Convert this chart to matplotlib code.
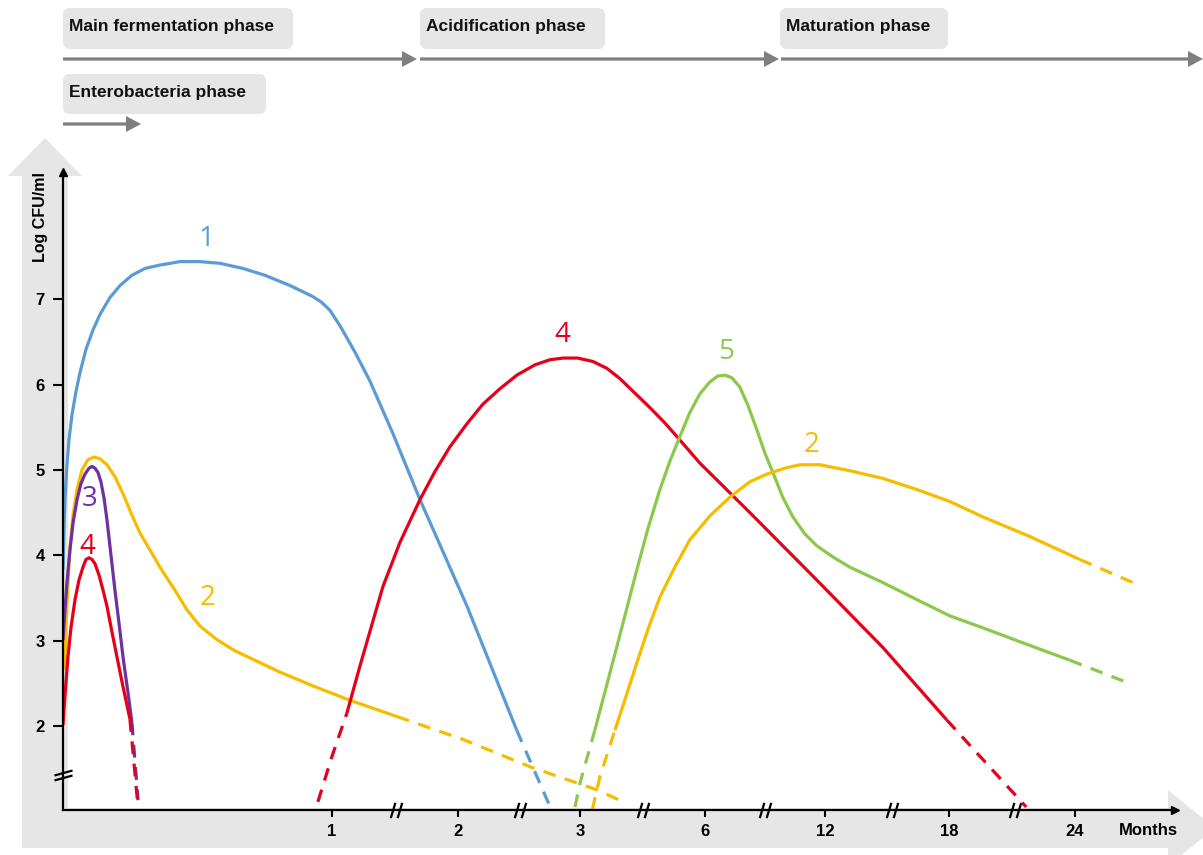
import matplotlib
matplotlib.use("Agg")
import matplotlib.pyplot as plt
from matplotlib.patches import FancyBboxPatch, Polygon
from matplotlib.path import Path

# curve data: x = position along the (broken) time axis, y = log CFU/ml
blue_x = [0, 0.008, 0.016, 0.032, 0.048, 0.073, 0.105, 0.137, 0.185, 0.242, 0.298, 0.379, 0.46,
          0.556, 0.661, 0.782, 0.944, 1.105, 1.266, 1.452, 1.629, 1.831, 2.016, 2.089, 2.153,
          2.234, 2.355, 2.476, 2.66, 2.88, 3.26, 3.66]
blue_y = [3.83, 4.30, 4.65, 5.06, 5.35, 5.65, 5.92, 6.14, 6.41, 6.64, 6.82, 7.02, 7.16,
          7.28, 7.36, 7.40, 7.44, 7.44, 7.42, 7.36, 7.28, 7.16, 7.03, 6.96, 6.87,
          6.69, 6.38, 6.04, 5.43, 4.65, 3.40, 1.95]
blue_dash_x = [3.66, 3.93]
blue_dash_y = [1.95, 1.05]

yellow1_x = [0.016, 0.024, 0.040, 0.056, 0.081, 0.113, 0.153, 0.202, 0.250, 0.298, 0.355, 0.419,
             0.484, 0.556, 0.621, 0.702, 0.782, 0.903, 1.0, 1.105, 1.242, 1.387, 1.548, 1.75,
             2.032, 2.315, 2.694]
yellow1_y = [2.66, 3.18, 3.65, 4.09, 4.47, 4.77, 5.00, 5.12, 5.15, 5.13, 5.06, 4.92,
             4.72, 4.47, 4.26, 4.06, 3.86, 3.59, 3.36, 3.17, 3.01, 2.88, 2.77, 2.63,
             2.46, 2.30, 2.11]
yellow1_dash_x = [2.694, 3.23, 3.77, 4.31, 4.52]
yellow1_dash_y = [2.11, 1.84, 1.52, 1.25, 1.11]

purple_x = [0, 0.016, 0.032, 0.056, 0.081, 0.113, 0.145, 0.177, 0.210, 0.234, 0.258, 0.282,
            0.306, 0.331, 0.355, 0.387, 0.419, 0.452, 0.484, 0.524, 0.556]
purple_y = [3.01, 3.36, 3.68, 4.06, 4.38, 4.65, 4.84, 4.95, 5.02, 5.04, 5.02, 4.97,
            4.86, 4.67, 4.41, 4.00, 3.59, 3.20, 2.81, 2.39, 2.04]
purple_dash_x = [0.556, 0.605]
purple_dash_y = [2.04, 1.13]

red1_x = [0, 0.016, 0.040, 0.065, 0.097, 0.129, 0.161, 0.185, 0.210, 0.234, 0.258, 0.290,
          0.323, 0.355, 0.395, 0.435, 0.484, 0.540]
red1_y = [2.01, 2.36, 2.81, 3.16, 3.48, 3.71, 3.86, 3.95, 3.97, 3.95, 3.90, 3.77,
          3.59, 3.40, 3.10, 2.81, 2.46, 2.08]
red1_dash_x = [0.540, 0.60]
red1_dash_y = [2.08, 1.13]

red2_dash_start_x = [2.056, 2.169, 2.29]
red2_dash_start_y = [1.11, 1.64, 2.15]
red2_x = [2.29, 2.395, 2.58, 2.718, 2.879, 3.0, 3.121, 3.258, 3.387, 3.524, 3.661, 3.806,
          3.927, 4.032, 4.153, 4.274, 4.387, 4.492, 4.613, 4.734, 4.855, 4.952, 5.137, 5.54,
          6.08, 6.613, 7.129]
red2_y = [2.15, 2.70, 3.63, 4.15, 4.65, 4.98, 5.27, 5.54, 5.77, 5.95, 6.11, 6.23,
          6.29, 6.31, 6.31, 6.27, 6.19, 6.07, 5.90, 5.73, 5.55, 5.39, 5.08, 4.50,
          3.71, 2.92, 2.07]
red2_dash_x = [7.129, 7.77]
red2_dash_y = [2.07, 1.05]

green_dash_start_x = [4.13, 4.17, 4.29]
green_dash_start_y = [1.05, 1.33, 1.95]
green_x = [4.29, 4.468, 4.629, 4.718, 4.815, 4.895, 4.976, 5.056, 5.137, 5.218, 5.282, 5.339,
           5.395, 5.46, 5.524, 5.597, 5.661, 5.726, 5.806, 5.887, 5.984, 6.081, 6.21, 6.347,
           6.613, 6.887, 7.153, 7.419, 7.694, 8.121]
green_y = [1.95, 2.93, 3.83, 4.31, 4.77, 5.10, 5.39, 5.67, 5.89, 6.03, 6.10, 6.11,
           6.08, 5.97, 5.76, 5.47, 5.20, 4.97, 4.68, 4.45, 4.25, 4.11, 3.98, 3.86,
           3.68, 3.48, 3.29, 3.15, 3.00, 2.77]
green_dash_x = [8.121, 8.60]
green_dash_y = [2.77, 2.50]

yellow2_dash_start_x = [4.27, 4.33, 4.452]
yellow2_dash_start_y = [1.02, 1.40, 1.95]
yellow2_x = [4.452, 4.54, 4.629, 4.718, 4.815, 4.935, 5.056, 5.218, 5.379, 5.54, 5.677, 5.823,
             5.944, 6.105, 6.347, 6.613, 6.887, 7.153, 7.419, 7.798, 8.202]
yellow2_y = [1.95, 2.34, 2.74, 3.13, 3.51, 3.86, 4.18, 4.46, 4.68, 4.86, 4.95, 5.02,
             5.06, 5.06, 4.99, 4.90, 4.77, 4.63, 4.45, 4.22, 3.95]
yellow2_dash_x = [8.202, 8.63]
yellow2_dash_y = [3.95, 3.68]

curve_labels = ["1", "4", "5", "2", "3", "4", "2"]
curve_label_x = [1.16, 4.03, 5.35, 6.04, 0.218, 0.20, 1.17]
curve_label_y = [7.70, 6.58, 6.38, 5.29, 4.66, 4.10, 3.50]

x_tick_pos = [2.17, 3.19, 4.17, 5.18, 6.15, 7.15, 8.16]
x_tick_labels = ["1", "2", "3", "6", "12", "18", "24"]
x_break_pos = [2.69, 3.69, 4.68, 5.66, 6.69, 7.68]
y_ticks = [2, 3, 4, 5, 6, 7]
y_break = 1.43

phase_names = ["Main fermentation phase", "Acidification phase", "Maturation phase", "Enterobacteria phase"]

BLUE = "#5b9bd5"
YELLOW = "#f7bc00"
PURPLE = "#7030a0"
RED = "#e6001a"
GREEN = "#8cc84b"
GREY_ARROW = "#7f7f7f"
LIGHT = "#e6e6e6"

W, H = 1203, 855
fig = plt.figure(figsize=(W / 100, H / 100), dpi=100)

# background layer in pixel coordinates
bg = fig.add_axes([0, 0, 1, 1], zorder=0)
bg.set_xlim(0, W)
bg.set_ylim(H, 0)
bg.axis("off")

big_arrow = Polygon([(22, 848), (22, 176), (8, 176), (45, 138), (82, 176), (68, 176),
                     (68, 808), (1168, 808), (1168, 790), (1215, 828), (1168, 866),
                     (1168, 848)], closed=True, facecolor=LIGHT, edgecolor="none")
bg.add_patch(big_arrow)

# phase boxes and arrows
boxes = [(63, 8, 230, 41), (420, 8, 185, 41), (780, 8, 168, 41), (63, 74, 203, 40)]
for (bx, by, bw, bh), name in zip(boxes, phase_names):
    bg.add_patch(FancyBboxPatch((bx, by), bw, bh, boxstyle="round,pad=0,rounding_size=7",
                                facecolor=LIGHT, edgecolor="none"))
    bg.text(bx + 6, by + bh / 2 - 2, name, ha="left", va="center", fontsize=12.5,
            fontweight="bold", family="Liberation Sans", color="#111111")

phase_arrows = [(63, 59, 417), (420, 59, 779), (781, 59, 1203), (63, 124, 141)]
for x0, y0, x1 in phase_arrows:
    bg.arrow(x0, y0, x1 - x0, 0, width=3.2, head_width=16, head_length=15,
             length_includes_head=True, color=GREY_ARROW, linewidth=0)

bg.text(40, 217, "Log CFU/ml", rotation=90, ha="center", va="center", fontsize=11.5,
        fontweight="bold", family="Liberation Sans")
bg.text(1148, 830, "Months", ha="center", va="center", fontsize=12,
        fontweight="bold", family="Liberation Sans")

# main plot
ax = fig.add_axes([63 / W, 1 - 810 / H, (1175 - 63) / W, (810 - 172) / H], zorder=1)
ax.set_xlim(0, 8.97)
ax.set_ylim(1.015, 8.49)
ax.patch.set_alpha(0)
for s in ["top", "right"]:
    ax.spines[s].set_visible(False)
for s in ["left", "bottom"]:
    ax.spines[s].set_linewidth(1.6)
ax.plot(1, 0, marker=">", ms=6, color="black", transform=ax.transAxes, clip_on=False)
ax.plot(0, 1, marker="^", ms=6, color="black", transform=ax.transAxes, clip_on=False)

ax.set_xticks(x_tick_pos)
ax.set_xticklabels(x_tick_labels)
ax.set_yticks(y_ticks)
ax.tick_params(axis="x", length=5, width=1.5, pad=5)
ax.tick_params(axis="y", length=7, width=1.5, pad=6)
for lab in ax.get_xticklabels() + ax.get_yticklabels():
    lab.set_fontweight("bold")
    lab.set_fontsize(12)
    lab.set_family("Liberation Sans")

slash_x = Path([(-0.75, -1), (-0.15, 1), (0.15, -1), (0.75, 1)],
               [Path.MOVETO, Path.LINETO, Path.MOVETO, Path.LINETO])
slash_y = Path([(-1, -0.55), (1, 0.0), (-1, 0.0), (1, 0.55)],
               [Path.MOVETO, Path.LINETO, Path.MOVETO, Path.LINETO])
ax.plot(x_break_pos, [ax.get_ylim()[0]] * len(x_break_pos), ls="none", marker=slash_x,
        ms=11, mfc="none", mec="black", mew=1.6, clip_on=False)
ax.plot([0], [y_break], ls="none", marker=slash_y, ms=13, mfc="none", mec="black",
        mew=1.6, clip_on=False)

lw = 2.3
dash = (0, (4, 3))
solid_sets = [(blue_x, blue_y, BLUE), (yellow1_x, yellow1_y, YELLOW),
              (purple_x, purple_y, PURPLE), (red1_x, red1_y, RED),
              (red2_x, red2_y, RED), (green_x, green_y, GREEN),
              (yellow2_x, yellow2_y, YELLOW)]
dash_sets = [(blue_dash_x, blue_dash_y, BLUE), (yellow1_dash_x, yellow1_dash_y, YELLOW),
             (purple_dash_x, purple_dash_y, PURPLE), (red1_dash_x, red1_dash_y, RED),
             (red2_dash_start_x, red2_dash_start_y, RED), (red2_dash_x, red2_dash_y, RED),
             (green_dash_start_x, green_dash_start_y, GREEN), (green_dash_x, green_dash_y, GREEN),
             (yellow2_dash_start_x, yellow2_dash_start_y, YELLOW),
             (yellow2_dash_x, yellow2_dash_y, YELLOW)]
for xs, ys, c in solid_sets:
    ax.plot(xs, ys, color=c, lw=lw, solid_joinstyle="round", solid_capstyle="butt")
for xs, ys, c in dash_sets:
    ax.plot(xs, ys, color=c, lw=lw, ls=dash)

label_colors = [BLUE, RED, GREEN, YELLOW, PURPLE, RED, YELLOW]
for t, x, y, c in zip(curve_labels, curve_label_x, curve_label_y, label_colors):
    ax.text(x, y, t, color=c, fontsize=20, family="Open Sans", ha="center", va="center")

fig.savefig("out.png", dpi=100)
